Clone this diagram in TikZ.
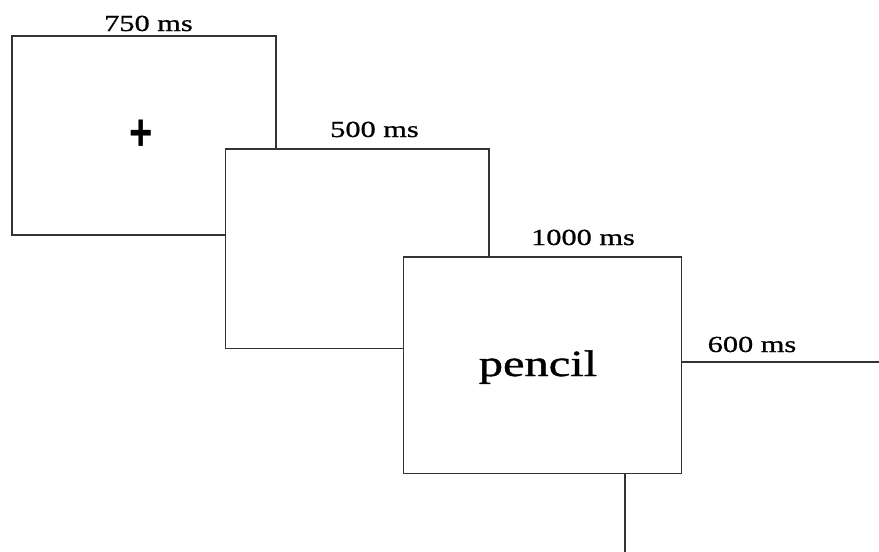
\documentclass[tikz,border=0pt]{standalone}
\usepackage{fontspec}
\setmainfont{Liberation Serif}[FakeStretch=1.32]
\newfontfamily\plusfont{Liberation Sans}
\newfontfamily\labelfont{Liberation Serif}[FakeStretch=1.32,FakeBold=0.8]
\newfontfamily\wordfont{Liberation Serif}[FakeStretch=1.31,FakeBold=1.0]
\begin{document}
\begin{tikzpicture}[x=1pt,y=-1pt,
  screen/.style={draw=black!80, line width=1.7pt, fill=white, inner sep=0pt, outer sep=0pt, rectangle},
  timelabel/.style={anchor=base, inner sep=0pt, font=\labelfont\fontsize{23}{23}\selectfont},
  stimulus/.style={anchor=base, inner sep=0pt, font=\wordfont\fontsize{37}{37}\selectfont}]
\useasboundingbox (0,0) rectangle (879,552);
\clip (0,0) rectangle (879,552);
% fourth (partially hidden) screen
\node[screen, minimum width=400pt, minimum height=400pt, anchor=north west] (s4) at (625,362) {};
% first screen
\node[screen, minimum width=264pt, minimum height=199.5pt] (s1) at (144,135.5) {};
\node[inner sep=0pt, font=\plusfont\bfseries\fontsize{40}{40}\selectfont] (plus) at (141,135) {\scalebox{1}[1.3]{+}};
% second screen
\node[screen, minimum width=263.5pt, minimum height=199.5pt] (s2) at (357.25,248.75) {};
% third screen
\node[screen, minimum width=278pt, minimum height=216.5pt] (s3) at (542.5,365.25) {};
\node[stimulus] (word) at (538,376) {pencil};
% durations
\node[timelabel] (t1) at (148.5,31) {750 ms};
\node[timelabel] (t2) at (374.5,137) {500 ms};
\node[timelabel] (t3) at (583,245) {1000 ms};
\node[timelabel] (t4) at (752,352) {600 ms};
\end{tikzpicture}
\end{document}
